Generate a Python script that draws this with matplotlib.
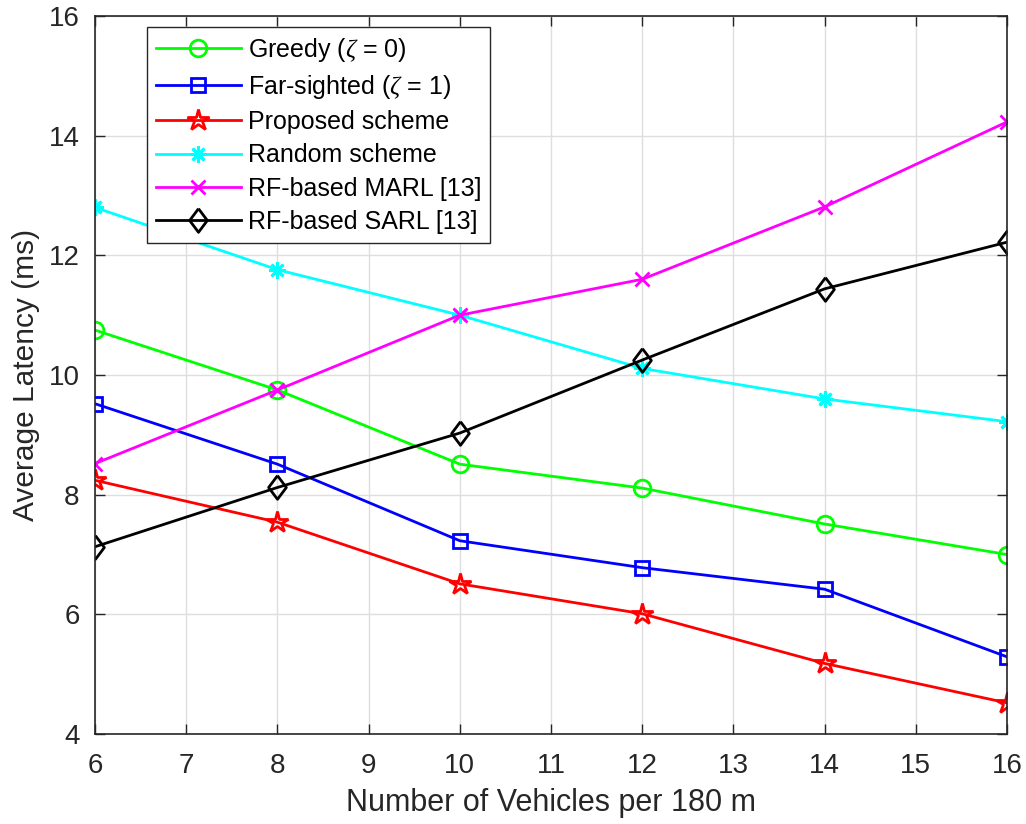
import numpy as np
import matplotlib
matplotlib.use("Agg")
from matplotlib import pyplot as plt

plt.rcParams['font.family'] = ['Liberation Sans', 'DejaVu Sans']
plt.rcParams['mathtext.fontset'] = 'custom'
plt.rcParams['mathtext.it'] = 'Liberation Serif:italic'

vehicles = [6, 8, 10, 12, 14, 16]
greedy = [10.75, 9.75, 8.51, 8.11, 7.51, 7.00]
far_sighted = [9.52, 8.51, 7.23, 6.78, 6.42, 5.29]
proposed = [8.24, 7.54, 6.51, 6.01, 5.18, 4.52]
random_scheme = [12.80, 11.76, 11.00, 10.11, 9.60, 9.22]
rf_marl = [8.52, 9.75, 11.00, 11.60, 12.81, 14.23]
rf_sarl = [7.13, 8.12, 9.03, 10.25, 11.44, 12.22]

labels = [r"Greedy ($\zeta$ = 0)", r"Far-sighted ($\zeta$ = 1)", "Proposed scheme",
          "Random scheme", "RF-based MARL [13]", "RF-based SARL [13]"]

# taller-than-wide diamond
diamond = [(0, 1), (0.75, 0), (0, -1), (-0.75, 0), (0, 1)]

fig = plt.figure(figsize=(10.26, 8.24), dpi=100)
ax = fig.add_axes([0.0926, 0.1092, 0.8889, 0.8714])

lw = 2.0
mw = 2.0
ax.plot(vehicles, greedy, color='#00ff00', lw=lw, marker='o', ms=12, mfc='none', mew=mw, label=labels[0])
ax.plot(vehicles, far_sighted, color='#0000ff', lw=lw, marker='s', ms=10, mfc='none', mew=mw, label=labels[1])
ax.plot(vehicles, proposed, color='#ff0000', lw=lw, marker='*', ms=16, mfc='none', mew=mw, label=labels[2])
ax.plot(vehicles, random_scheme, color='#00ffff', lw=lw, marker=(8, 2, 0), ms=12, mew=mw, label=labels[3])
ax.plot(vehicles, rf_marl, color='#ff00ff', lw=lw, marker='x', ms=9.5, mew=mw, label=labels[4])
ax.plot(vehicles, rf_sarl, color='#000000', lw=lw, marker=diamond, ms=17, mfc='none', mew=mw, label=labels[5])

ax.set_xlim(6, 16)
ax.set_ylim(4, 16)
ax.set_xticks(np.arange(6, 17, 1))
ax.set_yticks(np.arange(4, 17, 2))
ax.grid(True, color='#dedede', lw=1.0)
ax.set_axisbelow(True)
ax.tick_params(direction='in', length=7, width=1.0, top=True, right=True,
               labelsize=20, colors='#262626', pad=11)
ax.tick_params(axis='x', pad=14)
for s in ax.spines.values():
    s.set_color('#262626')
    s.set_linewidth(1.2)

ax.set_xlabel("Number of Vehicles per 180 m", fontsize=22, color='#262626', labelpad=6)
ax.set_ylabel("Average Latency (ms)", fontsize=21.5, color='#262626', labelpad=6)

leg = ax.legend(loc='upper left', bbox_to_anchor=(0.057, 0.985), fontsize=18,
                handlelength=3.4, handletextpad=0.3, labelspacing=0.37,
                borderpad=0.35, borderaxespad=0, fancybox=False, framealpha=1,
                edgecolor='#262626')
leg.get_frame().set_linewidth(1.0)

plt.savefig("out.png", dpi=100)
